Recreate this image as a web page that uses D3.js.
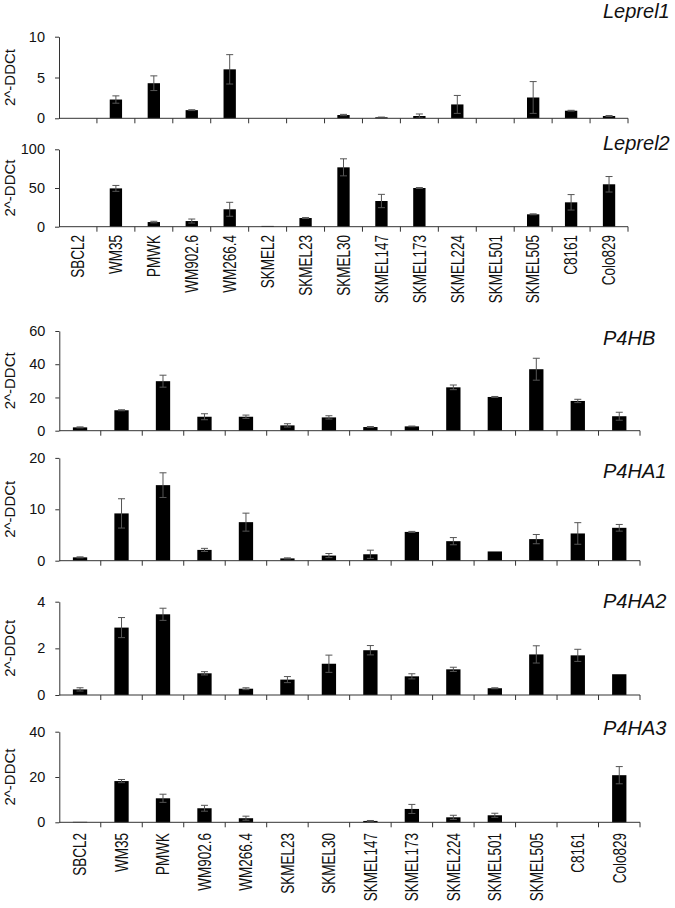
<!DOCTYPE html>
<html><head><meta charset="utf-8">
<script src="https://cdn.jsdelivr.net/npm/d3@7"></script>
<style>html,body{margin:0;padding:0;background:#fff;} svg{display:block;}</style>
</head><body><svg id="c" width="675" height="908"></svg>
<script>
// ---------- DATA ----------
const cellLinesA = ["SBCL2","WM35","PMWK","WM902.6","WM266.4","SKMEL2","SKMEL23","SKMEL30","SKMEL147","SKMEL173","SKMEL224","SKMEL501","SKMEL505","C8161","Colo829"];
const cellLinesB = ["SBCL2","WM35","PMWK","WM902.6","WM266.4","SKMEL23","SKMEL30","SKMEL147","SKMEL173","SKMEL224","SKMEL501","SKMEL505","C8161","Colo829"];

const leprel1    = [0, 2.3, 4.3, 1.0, 6.0, 0, 0, 0.4, 0.12, 0.28, 1.7, 0, 2.55, 0.93, 0.28];
const leprel1Err = [0, 0.45, 0.9, 0.05, 1.8, 0, 0, 0.08, 0.03, 0.25, 1.1, 0, 1.95, 0.05, 0.06];
const leprel1Ticks = [0, 5, 10];

const leprel2    = [0, 49.5, 6, 7.3, 22.5, 1, 11.2, 76.7, 33.2, 50, 0, 0, 16, 31.5, 54.8];
const leprel2Err = [0, 3.8, 1, 2.6, 9, 0, 0.6, 11, 8.6, 0.6, 0, 0, 0.6, 10, 10];
const leprel2Ticks = [0, 50, 100];

const p4hb    = [2.0, 12.3, 29.8, 8.4, 8.4, 3.2, 8.0, 2.2, 2.6, 26.1, 20.3, 37, 17.9, 8.7];
const p4hbErr = [0.3, 0.3, 3.6, 1.8, 1.0, 1.0, 1.0, 0.3, 0.2, 1.4, 0.3, 6.6, 1.0, 2.4];
const p4hbTicks = [0, 20, 40, 60];

const p4ha1    = [0.65, 9.2, 14.7, 2.1, 7.5, 0.45, 1.0, 1.25, 5.6, 3.8, 1.8, 4.2, 5.3, 6.4];
const p4ha1Err = [0.1, 2.85, 2.4, 0.3, 1.75, 0.1, 0.4, 0.8, 0.1, 0.7, 0, 0.9, 2.1, 0.65];
const p4ha1Ticks = [0, 10, 20];

const p4ha2    = [0.24, 2.89, 3.46, 0.93, 0.27, 0.66, 1.34, 1.92, 0.8, 1.1, 0.29, 1.74, 1.7, 0.89];
const p4ha2Err = [0.07, 0.43, 0.26, 0.07, 0.04, 0.13, 0.37, 0.2, 0.11, 0.09, 0.02, 0.37, 0.26, 0];
const p4ha2Ticks = [0, 2, 4];

const p4ha3    = [0.2, 18.2, 10.6, 6.2, 1.8, 0, 0, 0.6, 5.9, 2.2, 3.1, 0, 0, 20.8];
const p4ha3Err = [0, 0.7, 1.8, 1.3, 0.9, 0, 0, 0.2, 2.0, 0.9, 0.9, 0, 0, 3.8];
const p4ha3Ticks = [0, 20, 40];

const yLabel = "2^-DDCt";

// ---------- LAYOUT ----------
const sections = [
  {cats: cellLinesA, x0: 59,   x1: 628, pad: 0.675, labelY: 235},
  {cats: cellLinesB, x0: 59.3, x1: 640, pad: 0.655, labelY: 833}
];
const panels = [
  {name:"Leprel1", values:leprel1, errors:leprel1Err, ticks:leprel1Ticks, sec:0, yBase:118.3, yTop:36.7, titleY:18},
  {name:"Leprel2", values:leprel2, errors:leprel2Err, ticks:leprel2Ticks, sec:0, yBase:226.7, yTop:149.3, titleY:150},
  {name:"P4HB",    values:p4hb,    errors:p4hbErr,    ticks:p4hbTicks,    sec:1, yBase:430.7, yTop:331,   titleY:345},
  {name:"P4HA1",   values:p4ha1,   errors:p4ha1Err,   ticks:p4ha1Ticks,   sec:1, yBase:560.7, yTop:457.9, titleY:478},
  {name:"P4HA2",   values:p4ha2,   errors:p4ha2Err,   ticks:p4ha2Ticks,   sec:1, yBase:695,   yTop:601.7, titleY:608},
  {name:"P4HA3",   values:p4ha3,   errors:p4ha3Err,   ticks:p4ha3Ticks,   sec:1, yBase:822.3, yTop:731.7, titleY:735}
];

const FONT = "'Liberation Sans', Arial, sans-serif";
const AXIS = "#333";
const ERR = "#555";
const svg = d3.select("#c");

sections.forEach(s => {
  s.x = d3.scaleBand().domain(s.cats).range([s.x0, s.x1])
    .paddingInner(s.pad).paddingOuter(s.pad / 2);
});

panels.forEach(p => {
  const s = sections[p.sec];
  const x = s.x;
  const y = d3.scaleLinear().domain([0, p.ticks[p.ticks.length - 1]]).range([p.yBase, p.yTop]);
  const g = svg.append("g");
  const data = s.cats.map((c, i) => ({c, v: p.values[i], e: p.errors[i]}));

  // bars
  g.selectAll("rect.bar").data(data.filter(d => d.v > 0)).join("rect")
    .attr("class", "bar")
    .attr("x", d => x(d.c)).attr("width", x.bandwidth())
    .attr("y", d => y(d.v)).attr("height", d => y(0) - y(d.v))
    .attr("fill", "#000");

  // error bars
  const eb = data.filter(d => d.v > 0 && d.e > 0);
  const cx = d => x(d.c) + x.bandwidth() / 2;
  const cap = 3.5;
  const eg = g.append("g").attr("stroke", ERR).attr("stroke-width", 1);
  eg.selectAll("line.v").data(eb).join("line").attr("class", "v")
    .attr("x1", cx).attr("x2", cx)
    .attr("y1", d => y(d.v + d.e)).attr("y2", d => y(Math.max(0, d.v - d.e)));
  eg.selectAll("line.t").data(eb).join("line").attr("class", "t")
    .attr("x1", d => cx(d) - cap).attr("x2", d => cx(d) + cap)
    .attr("y1", d => y(d.v + d.e)).attr("y2", d => y(d.v + d.e));
  eg.selectAll("line.b").data(eb).join("line").attr("class", "b")
    .attr("x1", d => cx(d) - cap).attr("x2", d => cx(d) + cap)
    .attr("y1", d => y(Math.max(0, d.v - d.e))).attr("y2", d => y(Math.max(0, d.v - d.e)));

  // y axis
  const ya = d3.axisLeft(y).tickValues(p.ticks).tickFormat(d3.format("~g"))
    .tickSize(4).tickSizeOuter(0).tickPadding(10);
  const yg = g.append("g").attr("transform", `translate(${s.x0},0)`).call(ya);
  yg.select(".domain").attr("stroke", AXIS);
  yg.selectAll(".tick line").attr("stroke", AXIS);
  yg.selectAll(".tick text").attr("font-family", FONT).attr("font-size", 14.5).attr("fill", "#111");

  // x axis baseline with category boundary ticks
  const half = (x.step() - x.bandwidth()) / 2;
  const bounds = s.cats.map(c => x(c) - half).concat([x.range()[1]]);
  g.append("line").attr("x1", x.range()[0]).attr("x2", x.range()[1])
    .attr("y1", y(0)).attr("y2", y(0)).attr("stroke", AXIS);
  g.selectAll("line.xt").data(bounds.slice(1)).join("line").attr("class", "xt")
    .attr("x1", d => d).attr("x2", d => d).attr("y1", y(0)).attr("y2", y(0) + 5)
    .attr("stroke", AXIS);

  // y label
  const ym = (p.yBase + p.yTop) / 2;
  g.append("text").attr("transform", `translate(15,${ym}) rotate(-90)`)
    .attr("text-anchor", "middle").attr("font-family", FONT).attr("font-size", 15)
    .attr("fill", "#111").text(yLabel);

  // title
  g.append("text").attr("x", 603).attr("y", p.titleY)
    .attr("font-family", FONT).attr("font-style", "italic").attr("font-size", 20)
    .attr("fill", "#111").text(p.name);
});

// category labels
sections.forEach(s => {
  const x = s.x;
  svg.append("g").selectAll("text").data(s.cats).join("text")
    .attr("transform", d => `translate(${x(d) + x.bandwidth() / 2},${s.labelY}) scale(1.3,1) rotate(-90)`)
    .attr("dy", "0.36em").attr("text-anchor", "end")
    .attr("font-family", FONT).attr("font-size", 13.5).attr("fill", "#111")
    .text(d => d);
});
</script></body></html>
